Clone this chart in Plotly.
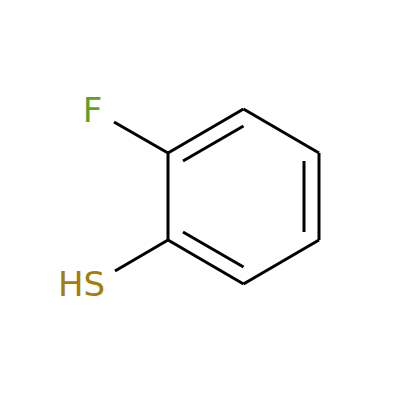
import plotly.graph_objects as go

# bond segments in picture pixels, y measured down from the top
bond_x = [168, 243.5, None, 243.5, 319, None, 319, 319, None, 319, 243.5, None, 243.5, 168, None, 168, 168, None,
          183, 243.5, None, 304, 304, None, 183, 243.5, None, 168, 114, None, 168, 115]
bond_y = [153, 109, None, 109, 153, None, 153, 240, None, 240, 284, None, 284, 240, None, 240, 153, None,
          161, 126, None, 161, 232, None, 232, 267, None, 153, 122, None, 240, 271]

atom_labels = ["F", "HS"]
atom_x = [92.5, 81.5]
atom_y = [113, 287]
atom_colors = ["#5f9f2b", "#a67c0c"]

fig = go.Figure()
fig.add_trace(go.Scatter(x=bond_x, y=bond_y, mode="lines", line=dict(color="black", width=3), hoverinfo="skip"))
fig.add_trace(go.Scatter(x=atom_x, y=atom_y, mode="text", text=atom_labels,
                         textfont=dict(family="DejaVu Sans", size=34, color=atom_colors), textposition="middle center"))

fig.update_layout(width=400, height=400, margin=dict(l=0, r=0, t=0, b=0), showlegend=False,
                  paper_bgcolor="white", plot_bgcolor="white")
fig.update_xaxes(range=[0, 400], visible=False)
fig.update_yaxes(range=[400, 0], visible=False)

# page has a default body margin that would push the plot off by 8px
fig.write_html("out.html", config=dict(displayModeBar=False), post_script="document.body.style.margin='0';")
